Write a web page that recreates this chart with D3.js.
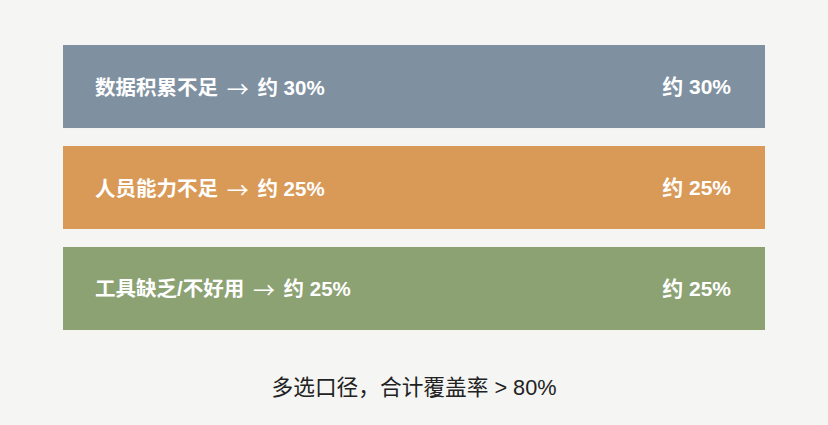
<!DOCTYPE html>
<html><head><meta charset="utf-8">
<script src="https://cdn.jsdelivr.net/npm/d3@7/dist/d3.min.js"></script>
<style>
html,body{margin:0;padding:0;background:#f5f5f3;}
svg{display:block;}
</style></head>
<body>
<script>
const categories = ["数据积累不足", "人员能力不足", "工具缺乏/不好用"];
const values = [30, 25, 25];
const valueLabels = ["约 30%", "约 25%", "约 25%"];
const colors = ["#7f91a1", "#d99a58", "#8ca273"];
const footnote = "多选口径，合计覆盖率 > 80%";

const W = 828, H = 425;
const svg = d3.select("body").append("svg").attr("width", W).attr("height", H);
svg.append("rect").attr("width", W).attr("height", H).attr("fill", "#f5f5f3");

const y = d3.scaleBand().domain(categories).range([45, 330]).paddingInner(0.178).paddingOuter(0);
const x = d3.scaleLinear().domain([0, 1]).range([63, 765]);

const g = svg.append("g");
const rows = g.selectAll("g.row").data(categories).join("g").attr("class", "row");
rows.append("rect")
  .attr("x", x(0)).attr("width", x(1) - x(0))
  .attr("y", d => y(d)).attr("height", y.bandwidth())
  .attr("fill", (d, i) => colors[i]);

const font = "'Liberation Sans','Noto Sans CJK SC',sans-serif";
const left = rows.append("text")
  .attr("x", 95).attr("y", d => y(d) + y.bandwidth() / 2)
  .attr("dominant-baseline", "central")
  .attr("fill", "#fff").attr("font-family", font).attr("font-weight", "bold").attr("font-size", 20.5);
left.append("tspan").text(d => d + " ");
left.append("tspan").attr("dx", 3).attr("font-family", "'Noto Sans CJK SC',sans-serif").attr("font-weight", "normal").attr("font-size", 22).text("→");
left.append("tspan").attr("dx", 3).text((d, i) => " " + valueLabels[i]);

rows.append("text")
  .attr("x", 731).attr("y", d => y(d) + y.bandwidth() / 2)
  .attr("dominant-baseline", "central").attr("text-anchor", "end")
  .attr("fill", "#fff").attr("font-family", font).attr("font-weight", "bold").attr("font-size", 21)
  .text((d, i) => valueLabels[i]);

svg.append("text")
  .attr("x", 414).attr("y", 387)
  .attr("dominant-baseline", "central").attr("text-anchor", "middle")
  .attr("fill", "#222").attr("font-family", font).attr("font-size", 21.7)
  .text(footnote);
</script>
</body></html>
